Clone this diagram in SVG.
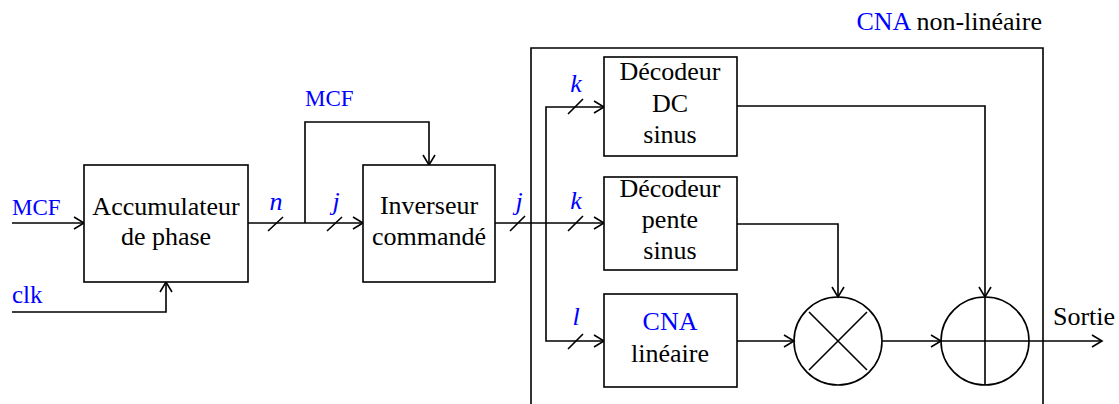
<svg xmlns="http://www.w3.org/2000/svg" width="1119" height="404" viewBox="0 0 1119 404">
<defs>
<marker id="arr" viewBox="-12 -8 14 16" markerWidth="14" markerHeight="16" refX="0" refY="0" orient="auto" markerUnits="userSpaceOnUse">
<path d="M -10 -6 L 0 0 L -10 6" fill="none" stroke="#000" stroke-width="1.6"/>
</marker>
</defs>
<style>
.box{fill:#fff;stroke:#000;stroke-width:1.6}
.ln{fill:none;stroke:#000;stroke-width:1.6}
text{font-family:"Liberation Serif","Times New Roman",serif}
.t{font-size:26px;fill:#000;text-anchor:middle}
.b{fill:#0000ff}
.lab{font-size:26px;fill:#0000ff;font-style:italic;text-anchor:middle}
.s{font-size:23px;fill:#0000ff}
</style>
<g id="cna-outer">
<path class="ln" d="M531 404 V48 H1043 V404"/>
<text class="t" x="1042" y="30" style="text-anchor:end" font-family="Liberation Serif"><tspan class="b">CNA</tspan> non-linéaire</text>
</g>
<g id="connectors">
<path class="ln" d="M12 223 H84" marker-end="url(#arr)"/>
<path class="ln" d="M12 312 H166 V282" marker-end="url(#arr)"/>
<path class="ln" d="M248 223 H363" marker-end="url(#arr)"/>
<path class="ln" d="M305 223 V122 H429 V165" marker-end="url(#arr)"/>
<path class="ln" d="M495 223 H604" marker-end="url(#arr)"/>
<path class="ln" d="M546 223 V107 H604" marker-end="url(#arr)"/>
<path class="ln" d="M546 223 V341 H604" marker-end="url(#arr)"/>
<path class="ln" d="M737 106 H985 V297" marker-end="url(#arr)"/>
<path class="ln" d="M737 224 H838 V297" marker-end="url(#arr)"/>
<path class="ln" d="M737 341 H794" marker-end="url(#arr)"/>
<path class="ln" d="M882 341 H941" marker-end="url(#arr)"/>
<path class="ln" d="M1029 341 H1102" marker-end="url(#arr)"/>
<path class="ln" d="M268 231 L283 217 M327 231 L342 217 M510 231 L525 216 M568 114 L583 99 M568 231 L583 216 M568 349 L583 334"/>
<text class="lab" x="276" y="210" font-family="Liberation Serif">n</text>
<text class="lab" x="336" y="210" font-family="Liberation Serif">j</text>
<text class="lab" x="519" y="210" font-family="Liberation Serif">j</text>
<text class="lab" x="576" y="92" font-family="Liberation Serif">k</text>
<text class="lab" x="576" y="209" font-family="Liberation Serif">k</text>
<text class="lab" x="576" y="325" font-family="Liberation Serif">l</text>
<text class="s" x="12" y="215" font-family="Liberation Serif">MCF</text>
<text class="s" x="12" y="303" style="font-size:25px" font-family="Liberation Serif">clk</text>
<text class="s" x="305" y="106" font-family="Liberation Serif">MCF</text>
<text class="t" x="1084" y="325" font-family="Liberation Serif">Sortie</text>
</g>
<g id="accumulateur">
<rect class="box" x="84" y="165" width="164" height="117"/>
<text class="t" x="166" y="215" font-family="Liberation Serif">Accumulateur</text>
<text class="t" x="166" y="245" font-family="Liberation Serif">de phase</text>
</g>
<g id="inverseur">
<rect class="box" x="363" y="165" width="132" height="117"/>
<text class="t" x="429" y="214" font-family="Liberation Serif">Inverseur</text>
<text class="t" x="429" y="245" font-family="Liberation Serif">commandé</text>
</g>
<g id="decodeur-dc">
<rect class="box" x="604" y="57" width="133" height="99"/>
<text class="t" x="670" y="80" font-family="Liberation Serif">Décodeur</text>
<text class="t" x="670" y="112" font-family="Liberation Serif">DC</text>
<text class="t" x="670" y="143" font-family="Liberation Serif">sinus</text>
</g>
<g id="decodeur-pente">
<rect class="box" x="604" y="177" width="133" height="93"/>
<text class="t" x="670" y="197" font-family="Liberation Serif">Décodeur</text>
<text class="t" x="670" y="228" font-family="Liberation Serif">pente</text>
<text class="t" x="670" y="259" font-family="Liberation Serif">sinus</text>
</g>
<g id="cna-lineaire">
<rect class="box" x="604" y="294" width="133" height="93"/>
<text class="t b" x="670" y="330" font-family="Liberation Serif">CNA</text>
<text class="t" x="670" y="362" font-family="Liberation Serif">linéaire</text>
</g>
<g id="multiplieur">
<circle class="ln" cx="838" cy="341" r="44"/>
<path class="ln" d="M809 312 L867 370 M867 312 L809 370"/>
</g>
<g id="additionneur">
<circle class="ln" cx="985" cy="341" r="44"/>
<path class="ln" d="M985 297 V385 M941 341 H1029"/>
</g>
</svg>
